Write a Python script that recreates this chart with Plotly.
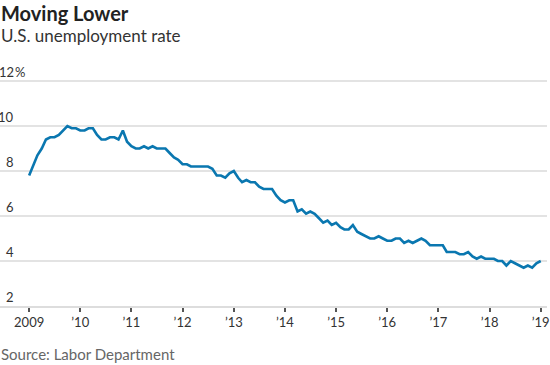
import pandas as pd
import plotly.graph_objects as go

# Monthly U.S. unemployment rate, Jan 2009 - Jan 2019 (%)
rate = [
    7.8, 8.3, 8.7, 9.0, 9.4, 9.5, 9.5, 9.6, 9.8, 10.0, 9.9, 9.9,   # 2009
    9.8, 9.8, 9.9, 9.9, 9.6, 9.4, 9.4, 9.5, 9.5, 9.4, 9.8, 9.3,    # 2010
    9.1, 9.0, 9.0, 9.1, 9.0, 9.1, 9.0, 9.0, 9.0, 8.8, 8.6, 8.5,    # 2011
    8.3, 8.3, 8.2, 8.2, 8.2, 8.2, 8.2, 8.1, 7.8, 7.8, 7.7, 7.9,    # 2012
    8.0, 7.7, 7.5, 7.6, 7.5, 7.5, 7.3, 7.2, 7.2, 7.2, 6.9, 6.7,    # 2013
    6.6, 6.7, 6.7, 6.2, 6.3, 6.1, 6.2, 6.1, 5.9, 5.7, 5.8, 5.6,    # 2014
    5.7, 5.5, 5.4, 5.4, 5.6, 5.3, 5.2, 5.1, 5.0, 5.0, 5.1, 5.0,    # 2015
    4.9, 4.9, 5.0, 5.0, 4.8, 4.9, 4.8, 4.9, 5.0, 4.9, 4.7, 4.7,    # 2016
    4.7, 4.7, 4.4, 4.4, 4.4, 4.3, 4.3, 4.4, 4.2, 4.1, 4.2, 4.1,    # 2017
    4.1, 4.1, 4.0, 4.0, 3.8, 4.0, 3.9, 3.8, 3.7, 3.8, 3.7, 3.9,    # 2018
    4.0,                                                           # 2019
]
months = pd.date_range("2009-01-01", periods=len(rate), freq="MS")

year_ticks = [pd.Timestamp(f"{y}-01-01") for y in range(2009, 2020)]
year_labels = ["2009", "’10", "’11", "’12", "’13", "’14", "’15", "’16", "’17", "’18", "’19"]

y_ticks = [2, 4, 6, 8, 10, 12]
y_labels = ["2", "4", "6", "8", "10", "12"]

FONT = "Lato"
W, H = 550, 365
x_left_px, x_right_px = 29.3, 543.7
y12_px, y2_px = 81, 306
top_px = 76  # plot area top, a bit above the 12 gridline

t0 = pd.Timestamp("2009-01-01")
t1 = pd.Timestamp("2019-01-01")
per_px = (t1 - t0) / (x_right_px - x_left_px)
x_range = [t0 - per_px * x_left_px, t1 + per_px * (W - x_right_px)]

units_per_px = 10 / (y2_px - y12_px)
y_range = [2, 12 + units_per_px * (y12_px - top_px)]

fig = go.Figure()
fig.add_trace(go.Scatter(
    x=months, y=rate, mode="lines",
    line=dict(color="#0a77b0", width=2.6),
    hoverinfo="skip",
))

annotations = []
for v, lab in zip(y_ticks, y_labels):
    annotations.append(dict(
        x=16 / W, xref="paper", y=v, yref="y", text=lab, showarrow=False,
        xanchor="right", yanchor="bottom", yshift=-1,
        font=dict(family=FONT, size=13, color="#333333"),
    ))
annotations.append(dict(
    x=16 / W, xref="paper", y=y_ticks[-1], yref="y", text="%", showarrow=False,
    xanchor="left", yanchor="bottom", xshift=-3, yshift=-1,
    font=dict(family=FONT, size=13, color="#333333"),
))
annotations += [
    dict(x=0, y=1, xref="paper", yref="paper", text="<b>Moving Lower</b>",
         showarrow=False, xanchor="left", yanchor="top", xshift=-1, yshift=top_px + 1,
         font=dict(family=FONT, size=20, color="#222222")),
    dict(x=0, y=1, xref="paper", yref="paper", text="U.S. unemployment rate",
         showarrow=False, xanchor="left", yanchor="top", xshift=-1, yshift=top_px - 23,
         font=dict(family=FONT, size=17, color="#333333")),
    dict(x=0, y=0, xref="paper", yref="paper", text="Source: Labor Department",
         showarrow=False, xanchor="left", yanchor="top", xshift=-1, yshift=-37,
         font=dict(family=FONT, size=15, color="#666666")),
]

fig.update_layout(
    width=W, height=H,
    margin=dict(l=0, r=0, t=top_px, b=H - y2_px, pad=0),
    paper_bgcolor="white", plot_bgcolor="white",
    showlegend=False,
    annotations=annotations,
    xaxis=dict(
        type="date", range=x_range,
        tickvals=year_ticks, ticktext=year_labels,
        ticks="outside", ticklen=4, tickwidth=1.5, tickcolor="#555555",
        ticklabeloverflow="allow",
        showgrid=False, zeroline=False,
        showline=True, linecolor="#dddddd", linewidth=1.5,
        tickfont=dict(family=FONT, size=13, color="#333333"),
        fixedrange=True,
    ),
    yaxis=dict(
        range=y_range, tickvals=y_ticks, showticklabels=False,
        showgrid=True, gridcolor="#e3e3e3", gridwidth=1.5,
        zeroline=False, showline=False, ticks="", fixedrange=True,
    ),
)

fig.write_html(
    "out.html",
    config={"displayModeBar": False},
    post_script="document.body.style.margin='0';document.body.style.padding='0';",
)
